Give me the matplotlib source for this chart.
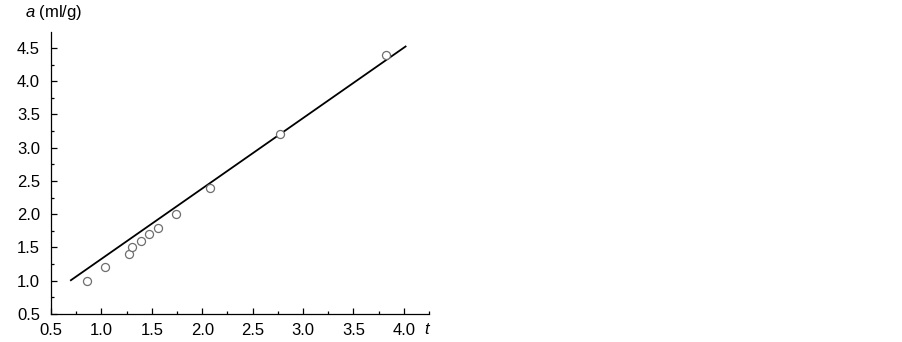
import matplotlib

matplotlib.use("Agg")
import matplotlib.pyplot as plt
from matplotlib.ticker import MultipleLocator

# data
t_pts = [0.86, 1.04, 1.27, 1.30, 1.39, 1.47, 1.56, 1.74, 2.08, 2.77, 3.82]
a_pts = [1.0, 1.2, 1.4, 1.5, 1.6, 1.7, 1.8, 2.0, 2.4, 3.2, 4.4]
fit_t = [0.69, 4.025]
fit_a = [1.0, 4.53]
xticks = [0.5, 1.0, 1.5, 2.0, 2.5, 3.0, 3.5, 4.0]
yticks = [0.5, 1.0, 1.5, 2.0, 2.5, 3.0, 3.5, 4.0, 4.5]

plt.rcParams.update({
    "font.family": ["Liberation Sans", "DejaVu Sans"],
    "font.size": 12,
    "mathtext.fontset": "custom",
    "mathtext.it": "Liberation Sans:italic",
})

W, H = 903, 342
fig = plt.figure(figsize=(W / 100, H / 100), dpi=100)
ax = fig.add_axes([51 / W, (H - 314) / H, (429 - 51) / W, (314 - 32) / H])

ax.plot(fit_t, fit_a, color="black", lw=1.3, solid_capstyle="butt")
ax.plot(t_pts, a_pts, ls="none", marker="o", ms=5.8, mfc="white",
        mec="#6e6e6e", mew=0.9)

ax.set_xlim(0.5, 4.25)
ax.set_ylim(0.5, 4.74)
ax.set_xticks(xticks)
ax.set_yticks(yticks)
ax.set_xticklabels([f"{v:.1f}" for v in xticks])
ax.set_yticklabels([f"{v:.1f}" for v in yticks])
ax.xaxis.set_minor_locator(MultipleLocator(0.25))
ax.yaxis.set_minor_locator(MultipleLocator(0.25))
ax.tick_params(which="major", direction="in", length=4, width=0.9, pad=6.5)
ax.tick_params(which="minor", direction="in", length=2, width=0.9)
ax.tick_params(axis="y", which="major", pad=8)

for s in ("top", "right"):
    ax.spines[s].set_visible(False)
for s in ("left", "bottom"):
    ax.spines[s].set_linewidth(0.9)

fig.text(25 / W, 1 - 12 / H, "$a$ (ml/g)", ha="left", va="center")
fig.text(427 / W, 1 - 330 / H, "t", style="italic", ha="center", va="center")

fig.savefig("out.png", dpi=100)
